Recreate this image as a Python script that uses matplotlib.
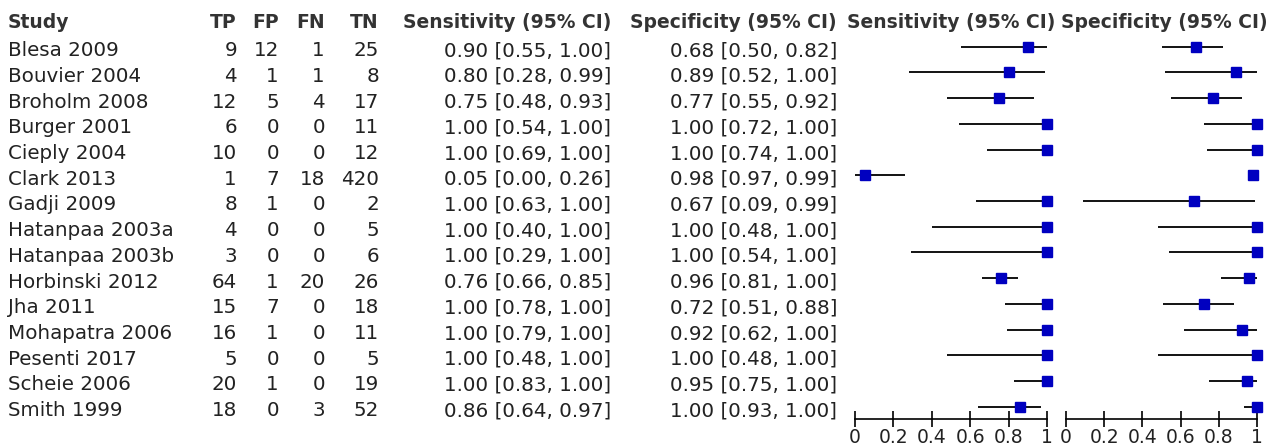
import matplotlib
matplotlib.use("Agg")
from matplotlib import pyplot as plt

studies = ["Blesa 2009", "Bouvier 2004", "Broholm 2008", "Burger 2001", "Cieply 2004",
           "Clark 2013", "Gadji 2009", "Hatanpaa 2003a", "Hatanpaa 2003b", "Horbinski 2012",
           "Jha 2011", "Mohapatra 2006", "Pesenti 2017", "Scheie 2006", "Smith 1999"]
tp = [9, 4, 12, 6, 10, 1, 8, 4, 3, 64, 15, 16, 5, 20, 18]
fp = [12, 1, 5, 0, 0, 7, 1, 0, 0, 1, 7, 1, 0, 1, 0]
fn = [1, 1, 4, 0, 0, 18, 0, 0, 0, 20, 0, 0, 0, 0, 3]
tn = [25, 8, 17, 11, 12, 420, 2, 5, 6, 26, 18, 11, 5, 19, 52]
sens = [0.90, 0.80, 0.75, 1.00, 1.00, 0.05, 1.00, 1.00, 1.00, 0.76, 1.00, 1.00, 1.00, 1.00, 0.86]
sens_lo = [0.55, 0.28, 0.48, 0.54, 0.69, 0.00, 0.63, 0.40, 0.29, 0.66, 0.78, 0.79, 0.48, 0.83, 0.64]
sens_hi = [1.00, 0.99, 0.93, 1.00, 1.00, 0.26, 1.00, 1.00, 1.00, 0.85, 1.00, 1.00, 1.00, 1.00, 0.97]
spec = [0.68, 0.89, 0.77, 1.00, 1.00, 0.98, 0.67, 1.00, 1.00, 0.96, 0.72, 0.92, 1.00, 0.95, 1.00]
spec_lo = [0.50, 0.52, 0.55, 0.72, 0.74, 0.97, 0.09, 0.48, 0.54, 0.81, 0.51, 0.62, 0.48, 0.75, 0.93]
spec_hi = [0.82, 1.00, 0.92, 1.00, 1.00, 0.99, 0.99, 1.00, 1.00, 1.00, 0.88, 1.00, 1.00, 1.00, 1.00]
ticks = [0, 0.2, 0.4, 0.6, 0.8, 1]
tick_labels = ["0", "0.2", "0.4", "0.6", "0.8", "1"]

W, H = 1279, 447
Y0, STEP = 46.7, 25.71   # pixel centre of first row, row spacing
FS = 14.3
FS_HDR = 13.5
TXT = "#222222"
BLUE = "#0000C0"

fig = plt.figure(figsize=(W / 100, H / 100), dpi=100)
plt.rcParams["font.family"] = "DejaVu Sans"

# table text, in pixel x / row y
ax = fig.add_axes([0, 0, 1, 1])
ax.set_xlim(0, W)
ax.set_ylim((H - Y0) / STEP, -Y0 / STEP)
ax.axis("off")

hy = (27.7 - Y0) / STEP
hdr = dict(fontsize=FS_HDR, fontweight="bold", color="#333333", va="baseline")
ax.text(8, hy, "Study", ha="left", **hdr)
for x, s in [(237, "TP"), (279, "FP"), (325, "FN"), (379, "TN"),
             (611, "Sensitivity (95% CI)"), (837, "Specificity (95% CI)")]:
    ax.text(x, hy, s, ha="right", **hdr)
ax.text(847, hy, "Sensitivity (95% CI)", ha="left", **hdr)
ax.text(1061, hy, "Specificity (95% CI)", ha="left", **hdr)

off = 0.37
for i, name in enumerate(studies):
    y = i + off
    kw = dict(fontsize=FS, color=TXT, va="baseline")
    ax.text(8, y, name, ha="left", **kw)
    ax.text(237, y, str(tp[i]), ha="right", **kw)
    ax.text(279, y, str(fp[i]), ha="right", **kw)
    ax.text(325, y, str(fn[i]), ha="right", **kw)
    ax.text(379, y, str(tn[i]), ha="right", **kw)
    ax.text(611, y, f"{sens[i]:.2f} [{sens_lo[i]:.2f}, {sens_hi[i]:.2f}]", ha="right", **kw)
    ax.text(837, y, f"{spec[i]:.2f} [{spec_lo[i]:.2f}, {spec_hi[i]:.2f}]", ha="right", **kw)

# forest panels
axis_y = 419
rows = list(range(len(studies)))
for x0, x1, est, lo, hi in [(855, 1047, sens, sens_lo, sens_hi),
                            (1066, 1257, spec, spec_lo, spec_hi)]:
    fa = fig.add_axes([x0 / W, (H - axis_y) / H, (x1 - x0) / W, axis_y / H])
    fa.patch.set_alpha(0)
    fa.set_xlim(0, 1)
    fa.set_ylim((axis_y - Y0) / STEP, -Y0 / STEP)
    fa.hlines(rows, lo, hi, color="black", lw=1.3, clip_on=False)
    fa.plot(est, rows, "s", color=BLUE, ms=7.9, mec=BLUE, clip_on=False, zorder=3)
    for sp in ["top", "left", "right"]:
        fa.spines[sp].set_visible(False)
    fa.spines["bottom"].set_linewidth(1.2)
    fa.set_yticks([])
    fa.set_xticks(ticks)
    fa.set_xticklabels(tick_labels)
    fa.tick_params(axis="x", direction="inout", length=11, width=1.2,
                   labelsize=FS_HDR, labelcolor=TXT, pad=1)

fig.savefig("out.png", dpi=100)
